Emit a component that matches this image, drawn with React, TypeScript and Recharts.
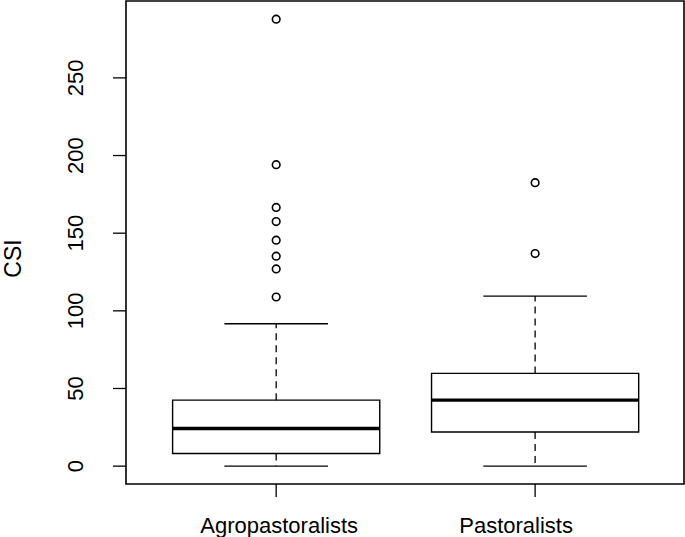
import React from 'react';
import { ComposedChart, XAxis, YAxis, Scatter, ReferenceArea, ReferenceLine } from 'recharts';

// box statistics (CSI by household type)
const groups = ['Agropastoralists', 'Pastoralists'];
const whiskerLow = [0, 0];
const q1 = [8.1, 22.0];
const median = [24.2, 42.5];
const q3 = [42.5, 59.7];
const whiskerHigh = [91.7, 109.5];
const agroOutliers = [108.9, 127.0, 135.2, 145.5, 157.5, 166.6, 194.1, 287.8];
const pastoOutliers = [136.9, 182.5];
const yTicks = [0, 50, 100, 150, 200, 250];

const FONT = '"Liberation Sans", Arial, Helvetica, sans-serif';
const BOX_HALF = 0.4;
const CAP_HALF = 0.2;
const X_DOMAIN: [number, number] = [0.42, 2.575];
const Y_DOMAIN: [number, number] = [-11.5, 299.5];
const labelNudge = [3, -19];

const outlierData = [
  ...agroOutliers.map(v => ({ x: 1, y: v })),
  ...pastoOutliers.map(v => ({ x: 2, y: v })),
];

const YTick = (props: any) => {
  const { x, y, payload } = props;
  const tx = x - 28;
  return (
    <text x={tx} y={y} transform={`rotate(-90, ${tx}, ${y})`} textAnchor="middle"
      fontSize={22} fontFamily={FONT} fill="#000">
      {payload.value}
    </text>
  );
};

const XTick = (props: any) => {
  const { x, y, payload, index } = props;
  return (
    <text x={x + (labelNudge[index] ?? 0)} y={y + 34} textAnchor="middle"
      fontSize={22} fontFamily={FONT} fill="#000">
      {groups[payload.value - 1]}
    </text>
  );
};

const CsiLabel = (props: any) => {
  const vb = props.viewBox;
  const cx = vb.x + 21;
  const cy = vb.y + vb.height / 2 + 16;
  return (
    <text x={cx} y={cy} transform={`rotate(-90, ${cx}, ${cy})`} textAnchor="middle"
      fontSize={23} fontFamily={FONT} fill="#000">
      CSI
    </text>
  );
};

const Outlier = (props: any) => (
  <circle cx={props.cx} cy={props.cy} r={3.8} fill="#fff" stroke="#000" strokeWidth={1.6} />
);

export default function App() {
  return (
    <div style={{ width: 685, height: 537, background: '#fff' }}>
      <style>{'body{margin:0}'}</style>
      <ComposedChart width={685} height={537} margin={{ top: 1, right: 1, bottom: 0, left: 0 }}>
        <XAxis type="number" dataKey="x" domain={X_DOMAIN} ticks={[1, 2]} allowDataOverflow
          axisLine={false} tickSize={13} tickLine={{ stroke: '#000', strokeWidth: 1.3 }}
          height={53} tick={<XTick />} interval={0} />
        <YAxis type="number" dataKey="y" domain={Y_DOMAIN} ticks={yTicks} allowDataOverflow
          axisLine={false} tickSize={13} tickLine={{ stroke: '#000', strokeWidth: 1.3 }}
          width={126} tick={<YTick />} interval={0} label={<CsiLabel />} />

        {groups.map((g, i) => {
          const x = i + 1;
          return (
            <React.Fragment key={g}>
              <ReferenceLine segment={[{ x, y: q3[i] }, { x, y: whiskerHigh[i] }]}
                stroke="#000" strokeWidth={1.3} strokeDasharray="7 5" />
              <ReferenceLine segment={[{ x, y: q1[i] }, { x, y: whiskerLow[i] }]}
                stroke="#000" strokeWidth={1.3} strokeDasharray="7 5" />
              <ReferenceLine segment={[{ x: x - CAP_HALF, y: whiskerHigh[i] }, { x: x + CAP_HALF, y: whiskerHigh[i] }]}
                stroke="#000" strokeWidth={1.4} />
              <ReferenceLine segment={[{ x: x - CAP_HALF, y: whiskerLow[i] }, { x: x + CAP_HALF, y: whiskerLow[i] }]}
                stroke="#000" strokeWidth={1.4} />
              <ReferenceArea x1={x - BOX_HALF} x2={x + BOX_HALF} y1={q1[i]} y2={q3[i]}
                fill="#fff" fillOpacity={1} stroke="#000" strokeWidth={1.4} />
              <ReferenceLine segment={[{ x: x - BOX_HALF, y: median[i] }, { x: x + BOX_HALF, y: median[i] }]}
                stroke="#000" strokeWidth={3.4} />
            </React.Fragment>
          );
        })}

        <ReferenceArea x1={X_DOMAIN[0]} x2={X_DOMAIN[1]} y1={Y_DOMAIN[0]} y2={Y_DOMAIN[1]}
          fill="none" stroke="#000" strokeWidth={1.6} />

        <Scatter data={outlierData} shape={<Outlier />} isAnimationActive={false} />
      </ComposedChart>
    </div>
  );
}
